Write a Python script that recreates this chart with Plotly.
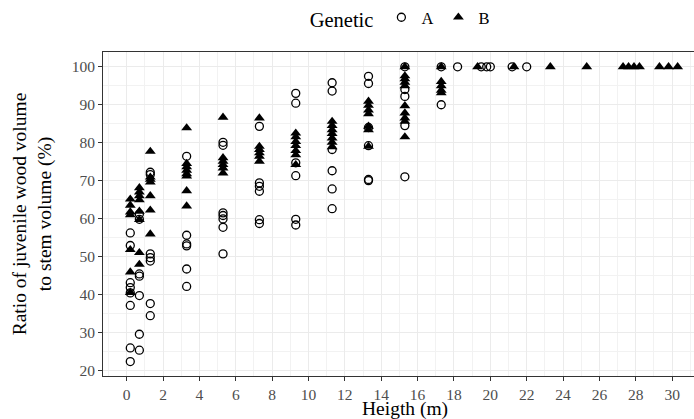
import plotly.graph_objects as go

# Genetic A (open circles)
a_x = [0.2]*8 + [0.7]*7 + [1.3]*7 + [3.3]*6 + [5.3]*7 + [7.3]*6 + [9.3]*6 + [11.3]*6 + [13.3]*6 + [15.3]*5 + [17.3]*2 + [18.2, 19.5, 19.8, 20.0, 21.2, 22.0]
a_y = [56.2, 52.9, 43.1, 41.8, 40.4, 37.1, 25.9, 22.3,
       61.2, 59.8, 45.4, 44.8, 39.7, 29.5, 25.3,
       72.2, 71.6, 50.7, 49.7, 48.8, 37.6, 34.4,
       76.4, 55.6, 53.3, 52.8, 46.7, 42.1,
       80.1, 79.3, 61.5, 60.8, 59.9, 57.7, 50.7,
       84.3, 69.4, 68.5, 67.2, 59.7, 58.7,
       93.0, 90.4, 74.7, 71.3, 59.8, 58.3,
       95.8, 93.6, 78.2, 72.6, 67.8, 62.6,
       97.5, 95.6, 84.0, 79.2, 70.3, 70.0,
       100.0, 94.0, 92.2, 84.5, 71.0,
       100.0, 90.0,
       100.0, 100.0, 100.0, 100.0, 100.0, 100.0]

# Genetic B (filled triangles)
b_x = [0.2]*7 + [0.7]*8 + [1.3]*7 + [3.3]*8 + [5.3]*6 + [7.3]*6 + [9.3]*7 + [11.3]*7 + [13.3]*7 + [15.3]*10 + [17.3]*5 + [19.3, 21.3, 23.3, 25.3, 27.3, 27.6, 27.9, 28.2, 29.3, 29.8, 30.3]
b_y = [65.1, 63.5, 61.7, 61.0, 51.8, 45.9, 40.5,
       68.1, 67.0, 66.0, 64.9, 61.9, 59.7, 51.0, 47.9,
       77.7, 70.9, 70.3, 69.6, 66.0, 62.2, 55.9,
       83.9, 74.5, 73.6, 72.7, 71.8, 71.2, 67.3, 63.3,
       86.7, 76.0, 75.1, 74.2, 73.3, 72.0,
       86.5, 79.0, 78.2, 77.3, 76.4, 75.1,
       82.5, 81.5, 80.3, 79.2, 77.9, 76.8, 74.2,
       85.6, 84.5, 83.4, 82.4, 81.2, 80.1, 78.9,
       90.9, 89.8, 88.6, 87.6, 84.3, 83.4, 79.0,
       100.0, 97.6, 96.8, 95.9, 95.0, 89.7, 87.8, 86.5, 85.6, 81.5,
       100.0, 96.1, 95.0, 93.8, 93.1,
       100.0, 100.0, 100.0, 100.0, 100.0, 100.0, 100.0, 100.0, 100.0, 100.0, 100.0]

x_ticks = list(range(0, 31, 2))
y_ticks = list(range(20, 101, 10))
x_title = "Heigth (m)"
y_title = "Ratio of juvenile wood volume<br>to stem volume (%)"

SERIF = "Liberation Serif, Times New Roman, serif"

fig = go.Figure()
fig.add_trace(go.Scatter(
    x=a_x, y=a_y, mode="markers", name="A",
    marker=dict(symbol="circle-open", size=8, color="black", line=dict(width=1.3, color="black")),
))
fig.add_trace(go.Scatter(
    x=b_x, y=b_y, mode="markers", name="B",
    marker=dict(symbol="triangle-up", size=9.5, color="black", line=dict(width=0)),
))

axis_common = dict(
    showgrid=True, gridcolor="#ebebeb", gridwidth=1.1,
    zeroline=False, automargin=False,
    showline=True, linecolor="#333333", linewidth=1,
    ticks="outside", ticklen=4, tickcolor="#333333", tickwidth=1,
    tickfont=dict(family=SERIF, size=15.5, color="#4d4d4d"),
)

fig.update_layout(
    width=694, height=419,
    margin=dict(l=103, r=0, t=52, b=43, autoexpand=False),
    paper_bgcolor="white", plot_bgcolor="white",
    font=dict(family=SERIF, color="black"),
    showlegend=True,
    legend=dict(
        orientation="h", x=0.578, xanchor="center", y=1.0, yanchor="top",
        yref="container", xref="container",
        title=dict(text="Genetic", font=dict(family=SERIF, size=20.5), side="left"),
        font=dict(family=SERIF, size=16.5),
        bgcolor="rgba(0,0,0,0)",
        itemwidth=30,
    ),
    xaxis=dict(
        range=[-1.3, 31.2], tickvals=x_ticks, mirror=True,
        minor=dict(dtick=1, tick0=1, showgrid=True, gridcolor="#f2f2f2", gridwidth=0.6, ticks=""),
        **axis_common,
    ),
    yaxis=dict(
        range=[18.5, 103.9], tickvals=y_ticks, mirror=False,
        minor=dict(dtick=5, tick0=25, showgrid=True, gridcolor="#f2f2f2", gridwidth=0.6, ticks=""),
        title=dict(text=y_title, font=dict(family=SERIF, size=19.5, color="black"), standoff=14),
        **axis_common,
    ),
    annotations=[dict(
        text=x_title, xref="paper", yref="paper", x=0.511, y=0,
        xanchor="center", yanchor="top", yshift=-20, showarrow=False,
        font=dict(family=SERIF, size=19.5, color="black"),
    )],
)

fig.write_html(
    "out.html",
    config={"displayModeBar": False},
    post_script="document.body.style.margin='0';document.body.style.overflow='hidden';",
)
